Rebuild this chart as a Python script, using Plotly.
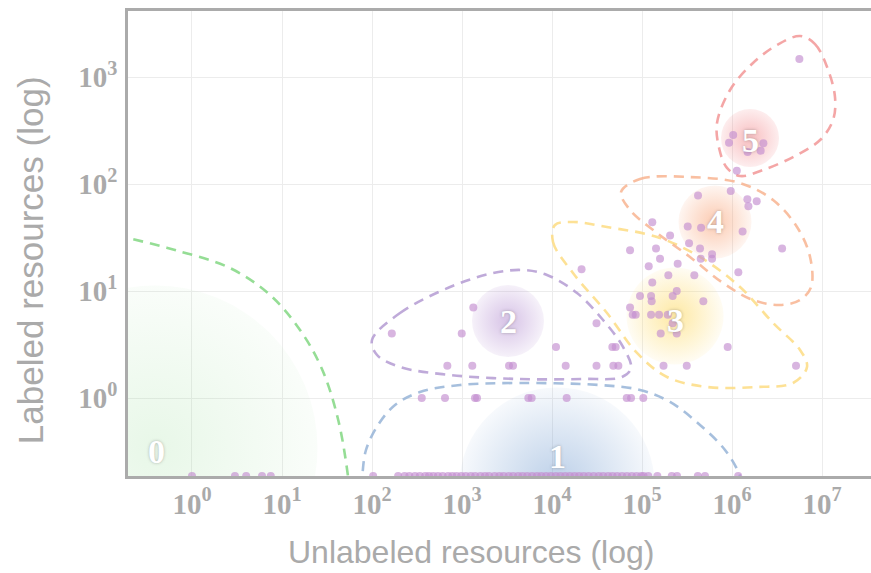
import math
import plotly.graph_objects as go

# ---- data -------------------------------------------------------------
# Items with at least one labeled resource: unlabeled count vs labeled count
unlabeled = [
    5.6e6, 1.03e6, 926000, 2.23e6, 2.08e6, 1.49e6, 1.13e6,
    968000, 419000, 1.48e6, 1.88e6, 1.52e6,
    130000, 322000, 453000, 1.31e6, 205000, 333000, 441000, 143000, 3.6e6,
    73600, 600000, 600000, 449000, 158500, 249000, 118700, 21300, 1.175e6,
    196000, 381000, 130000, 243000, 95000, 126000, 219000, 128000, 480000,
    73600, 1335, 78800, 85100, 126000, 154500, 193000, 31200, 219000,
    166, 993, 161300, 243000, 11080, 46800, 51000, 895000,
    687, 1301, 3327, 3687, 14190, 31200, 48000, 54570, 173300, 314000, 5.14e6,
    357, 647, 1394, 1468, 5454, 5945, 14560, 67600, 75500, 103300,
]
labeled = [
    1470, 287, 243, 240, 205, 199, 133,
    86, 78, 72, 69, 62,
    44, 40, 39, 36, 33, 28, 25, 25, 25,
    24, 22, 20, 20, 20, 18, 17, 16, 15,
    14, 14, 12, 10, 9, 9, 9, 8, 8,
    7, 7, 6, 6, 6, 6, 6, 5, 5,
    4, 4, 4, 4, 3, 3, 3, 3,
    2, 2, 2, 2, 2, 2, 2, 2, 2, 2, 2,
    1, 1, 1, 1, 1, 1, 1, 1, 1, 1,
]

# Items with no labeled resource (drawn on the floor of the log axis)
unlabeled_only = [
    1, 3, 4, 6, 7.5, 103,
    195, 230, 260, 300, 340, 390, 430, 480, 540, 610, 700, 780, 870, 980,
    1100, 1250, 1400, 1600, 1800, 2000, 2300, 2600, 2900, 3300, 3700, 4200,
    4700, 5300, 6000, 6800, 7600, 8600, 9700, 11000, 12400, 14000, 15800,
    17800, 20000, 22500, 25500, 29000, 33000, 37000, 42000, 47000, 53000,
    60000, 68000, 77000, 87000, 98000, 104000,
    117500, 148000, 214000, 245000, 417000, 501000, 1.17e6,
]

# Cluster ids and their centres (unlabeled, labeled)
cluster_ids = ["0", "1", "2", "3", "4", "5"]
cluster_x = [0.388, 11370, 3243, 232700, 647000, 1.585e6]
cluster_y = [0.341, 0.154, 5.24, 5.84, 44.2, 269]

# Cluster outlines, as (log10 unlabeled, log10 labeled) vertices
outline_0 = [(-1.02, 1.55), (-0.711, 1.495), (-0.189, 1.383), (0.422, 1.215),
             (0.867, 0.963), (1.2, 0.636), (1.444, 0.271), (1.622, -0.196),
             (1.733, -0.729), (1.778, -1.14)]
outline_1 = [(1.87, -1.0), (1.889, -0.766), (1.933, -0.486), (2.067, -0.252),
             (2.256, -0.065), (2.533, 0.056), (2.978, 0.121), (3.644, 0.140),
             (4.533, 0.121), (4.978, 0.075), (5.311, -0.037), (5.644, -0.252),
             (5.922, -0.486), (6.089, -0.729), (6.144, -0.953)]
outline_2 = [(2.0, 0.542), (2.311, 0.794), (2.867, 1.037), (3.344, 1.168),
             (3.678, 1.196), (3.944, 1.150), (4.278, 0.981), (4.567, 0.729),
             (4.789, 0.477), (4.878, 0.280), (4.778, 0.196), (4.344, 0.178),
             (3.611, 0.178), (2.867, 0.215), (2.311, 0.290), (2.056, 0.402)]
outline_3 = [(4.033, 1.617), (4.011, 1.458), (4.233, 1.168), (4.611, 0.794),
             (4.944, 0.421), (5.278, 0.196), (5.722, 0.103), (6.278, 0.103),
             (6.678, 0.140), (6.833, 0.290), (6.756, 0.449), (6.456, 0.701),
             (6.089, 1.037), (5.644, 1.318), (5.167, 1.505), (4.611, 1.598),
             (4.233, 1.645)]
outline_4 = [(4.767, 1.925), (4.978, 2.047), (5.533, 2.065), (6.089, 2.009),
             (6.456, 1.850), (6.722, 1.598), (6.867, 1.318), (6.878, 1.037),
             (6.756, 0.916), (6.533, 0.869), (6.233, 0.916), (5.900, 1.075),
             (5.533, 1.318), (5.167, 1.542), (4.867, 1.757)]
outline_5 = [(6.756, 3.383), (6.922, 3.308), (7.056, 3.093), (7.144, 2.813),
             (7.122, 2.598), (6.978, 2.411), (6.678, 2.252), (6.344, 2.131),
             (6.089, 2.075), (5.944, 2.150), (5.856, 2.336), (5.833, 2.570),
             (5.978, 2.879), (6.233, 3.131), (6.5, 3.299)]

x_tick_exp = [0, 1, 2, 3, 4, 5, 6, 7]
y_tick_exp = [0, 1, 2, 3]

# ---- style ------------------------------------------------------------
X_RANGE = [-0.711, 7.544]
Y_RANGE = [-0.729, 3.617]
y_floor = 10 ** Y_RANGE[0]

POINT_COLOR = "rgba(196,142,208,0.66)"
GRID = "#ececec"
FRAME = "#ababab"
TEXT = "#aaaaaa"

# (centre colour, edge colour, diameter px) per cluster glow
glow_style = [
    ("rgba(150,220,150,0.22)", "rgba(150,220,150,0.05)", 325),
    ("rgba(120,160,210,0.50)", "rgba(120,160,210,0.06)", 195),
    ("rgba(165,120,200,0.45)", "rgba(165,120,200,0.10)", 72),
    ("rgba(253,215,90,0.55)", "rgba(253,215,90,0.07)", 97),
    ("rgba(248,150,100,0.50)", "rgba(248,150,100,0.09)", 73),
    ("rgba(240,110,115,0.45)", "rgba(240,110,115,0.12)", 58),
]
outline_style = [
    ("rgba(130,215,130,0.85)", False),
    ("rgba(150,180,215,0.85)", False),
    ("rgba(180,155,210,0.85)", True),
    ("rgba(253,220,130,0.85)", True),
    ("rgba(248,180,145,0.85)", True),
    ("rgba(242,150,150,0.85)", True),
]
# offsets of the number labels from the cluster centres: (px, decades)
label_shift = [(2, -0.03), (0, 0.27), (0, 0.0), (0, -0.04), (0, 0.0), (0, -0.02)]

fig = go.Figure()

# soft radial glows behind each cluster
for cid, cx, cy, (c_in, c_out, d) in zip(cluster_ids, cluster_x, cluster_y, glow_style):
    fig.add_trace(go.Scatter(
        x=[cx], y=[cy], mode="markers", hoverinfo="skip", showlegend=False,
        marker=dict(size=d, color=c_out, line=dict(width=0),
                    gradient=dict(type="radial", color=c_in)),
    ))

# dashed cluster outlines
outlines = [outline_0, outline_1, outline_2, outline_3, outline_4, outline_5]
for pts, (col, closed) in zip(outlines, outline_style):
    xs = [10 ** p[0] for p in pts]
    ys = [10 ** p[1] for p in pts]
    if closed:
        xs.append(xs[0])
        ys.append(ys[0])
    fig.add_trace(go.Scatter(
        x=xs, y=ys, mode="lines", hoverinfo="skip", showlegend=False,
        line=dict(color=col, width=2.6, dash="10px,7px", shape="spline",
                  smoothing=1.0, simplify=False),
    ))

# items
fig.add_trace(go.Scatter(
    x=unlabeled_only, y=[y_floor] * len(unlabeled_only), mode="markers",
    showlegend=False, marker=dict(size=8, color=POINT_COLOR),
))
fig.add_trace(go.Scatter(
    x=unlabeled, y=labeled, mode="markers", showlegend=False,
    marker=dict(size=8, color=POINT_COLOR),
))

# cluster numbers (annotation positions on log axes are given in log10 units)
for cid, cx, cy, (dx, dy) in zip(cluster_ids, cluster_x, cluster_y, label_shift):
    fig.add_annotation(
        x=math.log10(cx), y=math.log10(cy) + dy, xref="x", yref="y",
        text=f"<b>{cid}</b>", showarrow=False, xshift=dx,
        font=dict(family="Liberation Serif, Times New Roman, serif", size=34,
                  color="white", shadow="0px 0px 3px rgba(90,90,90,0.45)"),
    )

tick_font = dict(family="Liberation Serif, Times New Roman, serif", size=29,
                 color=TEXT, weight="bold")
fig.update_xaxes(
    type="log", range=X_RANGE,
    tickvals=[10 ** e for e in x_tick_exp],
    ticktext=[f"10<sup>{e}</sup>" for e in x_tick_exp],
    tickfont=tick_font, showgrid=True, gridcolor=GRID, gridwidth=1,
    showline=True, linecolor=FRAME, linewidth=2.5, mirror=True,
    ticks="", zeroline=False,
)
fig.update_yaxes(
    type="log", range=Y_RANGE,
    tickvals=[10 ** e for e in y_tick_exp],
    ticktext=[f"10<sup>{e}</sup>" for e in y_tick_exp],
    tickfont=tick_font, showgrid=True, gridcolor=GRID, gridwidth=1,
    showline=True, linecolor=FRAME, linewidth=2.5, mirror=False,
    ticks="", zeroline=False, ticklabelstandoff=2,
)

title_font = dict(family="Liberation Sans, Arial, sans-serif", size=32, color=TEXT)
fig.add_annotation(text="Unlabeled resources (log)", xref="paper", yref="paper",
                   x=0.4616, y=-0.163, xanchor="center", yanchor="middle",
                   showarrow=False, font=title_font)
fig.add_annotation(text="Labeled resources (log)", xref="paper", yref="paper",
                   x=-0.132, y=0.464, xanchor="center", yanchor="middle",
                   textangle=-90, showarrow=False,
                   font=dict(title_font, size=35))

fig.update_layout(
    width=871, height=573,
    margin=dict(l=128, r=0, t=11, b=97),
    paper_bgcolor="white", plot_bgcolor="white",
)

fig.write_html("out.html")
